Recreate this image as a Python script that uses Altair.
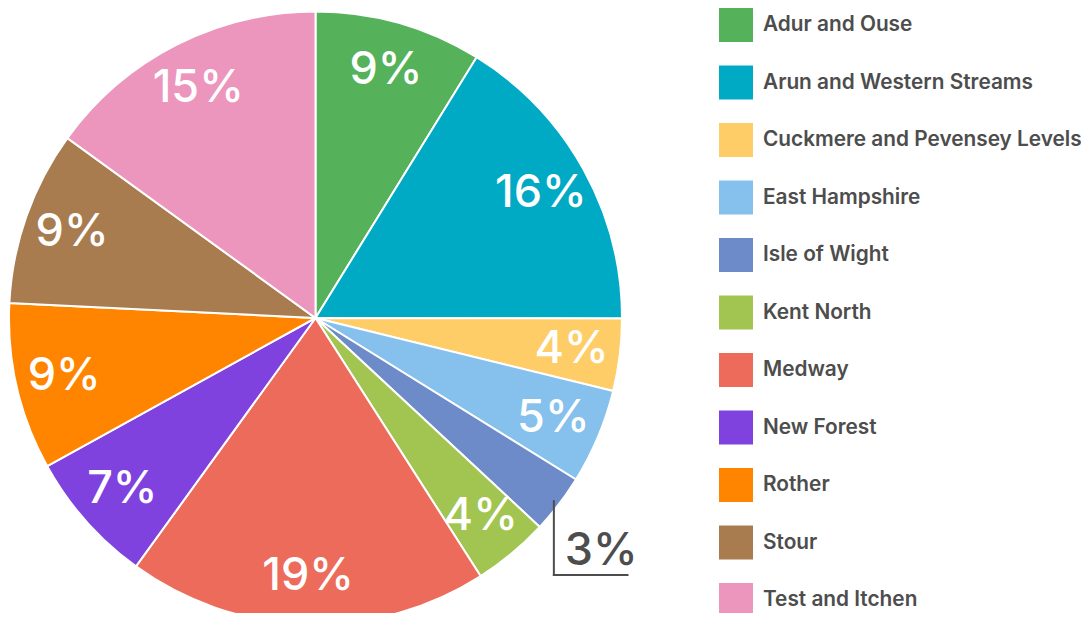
import math
import altair as alt
import pandas as pd

# ---- data ----
categories = [
    "Adur and Ouse",
    "Arun and Western Streams",
    "Cuckmere and Pevensey Levels",
    "East Hampshire",
    "Isle of Wight",
    "Kent North",
    "Medway",
    "New Forest",
    "Rother",
    "Stour",
    "Test and Itchen",
]
shares = [8.8, 16.2, 3.8, 5.0, 3.1, 4.0, 19.0, 7.0, 8.8, 9.2, 15.0]
colors = [
    "#55b15a", "#00a9c4", "#fecd67", "#85c1ec", "#6d8bc8", "#a1c550",
    "#ec6b5b", "#7f42de", "#ff8500", "#a87c4f", "#ec95bd",
]

# ---- geometry / style ----
W, H = 1073, 605
CX, CY = 307.5, 310
R = 306.5
LABEL_R = 258
LEADER_R = 300
SMALL = 3.5
FONT = "Inter"
GREY = "#4d4d4d"

labels = [f"{round(v)}%" for v in shares]
df = pd.DataFrame({
    "idx": list(range(len(categories))),
    "category": categories,
    "share": shares,
    "label": labels,
    "inner": [l if v >= SMALL else "" for l, v in zip(labels, shares)],
})

theta = alt.Theta("share:Q", stack=True)
order = alt.Order("idx:Q", sort="ascending")

arcs = alt.Chart(df).mark_arc(radius=R, stroke="white", strokeWidth=2).encode(
    theta=theta,
    order=order,
    color=alt.Color(
        "category:N",
        scale=alt.Scale(domain=categories, range=colors),
        sort=categories,
        legend=alt.Legend(
            orient="none", legendX=711, legendY=0, title=None,
            symbolType="square", symbolSize=1156, symbolStrokeWidth=0,
            symbolOpacity=1,
            labelFont=FONT, labelFontSize=20.8, labelFontWeight=600,
            labelColor=GREY, labelOffset=10, labelLimit=600,
            rowPadding=23.5, padding=0,
        ),
    ),
    x=alt.value(CX),
    y=alt.value(CY),
)

inner_text = alt.Chart(df).mark_text(
    radius=LABEL_R, font=FONT, fontSize=45, fontWeight=500, color="white",
    align="center", baseline="middle",
).encode(
    theta=theta,
    order=order,
    text="inner:N",
    x=alt.value(CX),
    y=alt.value(CY),
)

# leader for small slices (computed from the data)
total = sum(shares)
layers = [arcs, inner_text]
cum = 0.0
for cat, v, lab in zip(categories, shares, labels):
    if v < SMALL:
        mid = (cum + v / 2) / total * 2 * math.pi
        xs = CX + LEADER_R * math.sin(mid)
        ys = CY - LEADER_R * math.cos(mid)
        yc = CY + 257
        xe = CX + 313
        one = df[df["category"] == cat]
        vert = alt.Chart(one).mark_rule(color=GREY, strokeWidth=2).encode(
            x=alt.value(xs), y=alt.value(ys), y2=alt.value(yc + 1)
        )
        horiz = alt.Chart(one).mark_rule(color=GREY, strokeWidth=2).encode(
            x=alt.value(xs - 1), x2=alt.value(xe), y=alt.value(yc)
        )
        txt = alt.Chart(one).mark_text(
            font=FONT, fontSize=45, fontWeight=500, color=GREY,
            align="left", baseline="alphabetic",
        ).encode(text="label:N", x=alt.value(xs + 11), y=alt.value(yc - 10))
        layers += [vert, horiz, txt]
    cum += v

chart = alt.layer(*layers).properties(
    width=W, height=H, autosize=alt.AutoSizeParams(type="none"), padding=0,
).configure_view(strokeWidth=0)

chart.save("out.html", embed_options={"renderer": "svg", "actions": False})
